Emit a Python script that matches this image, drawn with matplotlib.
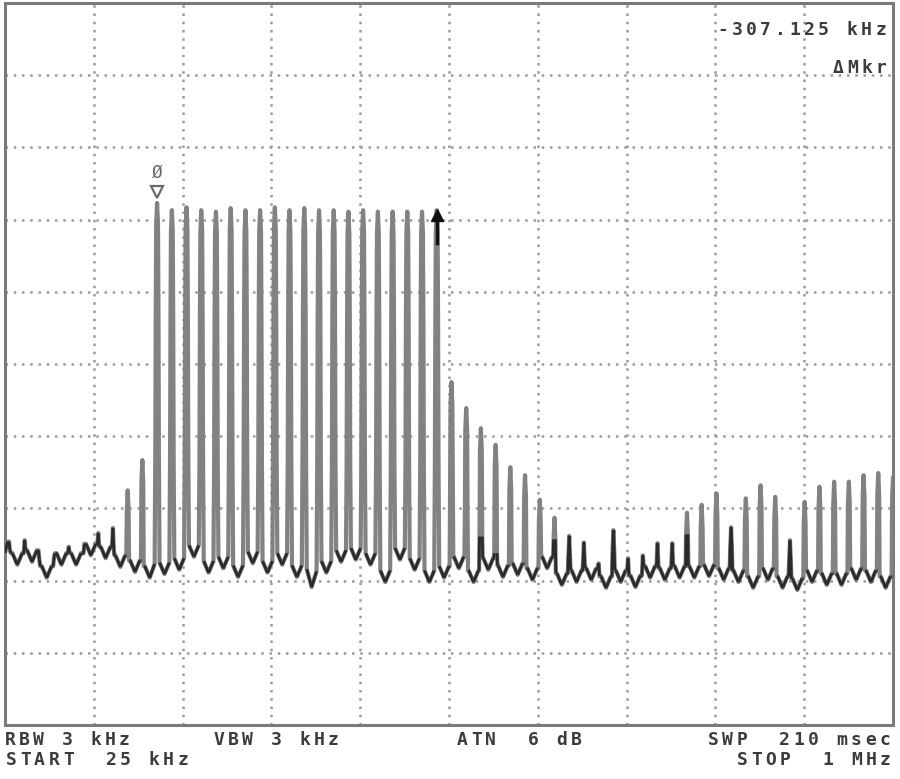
import matplotlib
matplotlib.use("Agg")
import matplotlib.pyplot as plt
from matplotlib.collections import LineCollection

start_khz = 25.0
stop_khz = 1000.0
ref_level_db = 0.0
db_per_div = 10.0

# centre frequency of each comb line (kHz)
spike_freq_khz = [30.4, 46.6, 62.7, 78.9, 95.0, 111.2, 127.4, 143.5, 159.7, 175.8,
                  192.0, 208.2, 224.3, 240.5, 256.6, 272.8, 289.0, 305.1, 321.3, 337.4,
                  353.6, 369.8, 385.9, 402.1, 418.2, 434.4, 450.6, 466.7, 482.9, 499.0,
                  515.2, 531.4, 547.5, 563.7, 579.8, 596.0, 612.2, 628.3, 644.5, 660.6,
                  676.8, 693.0, 709.1, 725.3, 741.4, 757.6, 773.8, 789.9, 806.1, 822.2,
                  838.4, 854.6, 870.7, 886.9, 903.0, 919.2, 935.4, 951.5, 967.7, 983.8,
                  1000.0]

# peak level of each comb line (dB)
spike_peak_db = [-75.8, -74.4, -77.1, -76.7, -75.3, -76.2, -73.4, -72.7, -67.5, -63.3,
                 -27.7, -28.7, -28.3, -28.7, -28.9, -28.4, -28.7, -28.7, -28.3, -28.7,
                 -28.4, -28.7, -28.7, -28.9, -28.7, -28.9, -28.9, -28.9, -28.9, -28.7,
                 -52.5, -56.1, -58.9, -61.2, -64.3, -65.4, -68.8, -71.3, -73.8, -74.7,
                 -77.6, -73.0, -76.9, -76.5, -74.8, -74.8, -70.6, -69.5, -67.9, -72.6,
                 -68.6, -66.8, -68.4, -74.4, -69.1, -67.0, -66.3, -66.3, -65.4, -65.1,
                 -65.7]

# noise floor level in the gap between consecutive lines (dB)
valley_db = [-77.8, -77.4, -79.6, -77.8, -77.8, -76.5, -76.9, -78.1, -78.8, -79.6,
             -79.1, -78.5, -76.7, -78.9, -78.3, -79.5, -77.6, -78.9, -77.8, -79.5,
             -80.9, -78.9, -77.4, -77.1, -77.8, -80.2, -77.1, -78.5, -80.2,
             -79.6, -78.3, -80.2, -78.5, -79.5, -79.2, -79.9, -78.3, -80.6, -80.2,
             -79.9, -81.0, -80.2, -80.9, -79.6, -79.9, -79.6, -79.6, -79.4, -79.9,
             -80.2, -81.0, -79.9, -81.0, -81.3, -80.2, -80.6, -80.6, -79.9, -80.2,
             -81.0]

trace_start_db = -76.2

marker_index = 10        # "Ø" marker line
delta_index = 29         # delta-marker reference line

marker_readout = "-307.125 kHz"
marker_mode = "\u0394Mkr"
footer_line1 = [("RBW 3 kHz", 5), ("VBW 3 kHz", 214), ("ATN  6 dB", 457), ("SWP  210 msec", 708)]
footer_line2 = [("START  25 kHz", 6), ("STOP  1 MHz", 737)]

# ---------------- style ----------------
W, H = 900, 779
fig = plt.figure(figsize=(W / 100, H / 100), dpi=100)
fig.patch.set_facecolor("white")
ax = fig.add_axes([5 / W, 1 - 725 / H, 888 / W, 722 / H])
ax.set_xlim(start_khz, stop_khz)
ax.set_ylim(ref_level_db - 10 * db_per_div, ref_level_db)
span = stop_khz - start_khz
ax.set_xticks([start_khz + span * i / 10 for i in range(11)])
ax.set_yticks([ref_level_db - db_per_div * i for i in range(11)])
ax.tick_params(length=0, labelbottom=False, labelleft=False)
ax.grid(True, color="#9a9a9a", linewidth=1.8, linestyle=(0, (1, 2.3)), zorder=1)
for s in ax.spines.values():
    s.set_color("#7a7a7a")
    s.set_linewidth(2.2)

# spike shape (drawing style of the narrow RBW response)
shape_off = [1.0, 1.5, 2.0, 2.7]
shape_drop = [3, 15, 35, 50]
base_lift = 1.6   # spike skirts meet the noise slightly above the gap minimum

xs, ys = [start_khz], [trace_start_db]
n = len(spike_freq_khz)
for i in range(n):
    f, p = spike_freq_khz[i], spike_peak_db[i]
    vl = valley_db[i - 1] if i > 0 else trace_start_db
    vr = valley_db[i] if i < len(valley_db) else valley_db[-1]
    for o, d in zip(reversed(shape_off), reversed(shape_drop)):
        xs.append(f - o); ys.append(max(p - d, vl + base_lift))
    xs.append(f); ys.append(p)
    for o, d in zip(shape_off, shape_drop):
        xs.append(f + o); ys.append(max(p - d, vr + base_lift))
    if i < n - 1:
        xs.append((f + spike_freq_khz[i + 1]) / 2); ys.append(valley_db[i])

ax.plot(xs, ys, color="#828282", linewidth=3.0, solid_joinstyle="round", zorder=3)
segs = []
for j in range(len(xs) - 1):
    if ys[j] < -72.5 and ys[j + 1] < -72.5:
        segs.append([(xs[j], ys[j]), (xs[j + 1], ys[j + 1])])
ax.add_collection(LineCollection(segs, colors="#2a2a2a", linewidths=2.0, zorder=4))

# markers
fm, pm = spike_freq_khz[marker_index], spike_peak_db[marker_index]
ax.plot([fm], [pm + 1.5], marker="v", markersize=8, markerfacecolor="white",
        markeredgecolor="#6a6a6a", markeredgewidth=1.6, zorder=5)
ax.text(fm, pm + 2.9, "\u00d8", ha="center", va="bottom", fontsize=13,
        color="#6a6a6a", family="DejaVu Sans Mono", zorder=5)

fd, pd_ = spike_freq_khz[delta_index], spike_peak_db[delta_index]
ax.plot([fd, fd], [pd_ - 0.6, pd_ - 4.6], color="#111111", linewidth=2.5, zorder=6)
ax.plot([fd], [pd_ - 0.6], marker="^", markersize=8, color="#111111", zorder=6)


def fixed_text(s, x_left, y_center, pitch=14.3, size=13, color="#3c3c3c"):
    for k, ch in enumerate(s):
        if ch == " ":
            continue
        fig.text((x_left + k * pitch + 5) / W, 1 - y_center / H, ch, ha="center",
                 va="center", fontsize=size, color=color, family="DejaVu Sans Mono",
                 fontweight="bold")


for s, x0 in footer_line1:
    fixed_text(s, x0, 740)
for s, x0 in footer_line2:
    fixed_text(s, x0, 760)

pitch_top = 14.4
fixed_text(marker_readout, 886 - (len(marker_readout) - 1) * pitch_top - 10, 30, pitch=pitch_top)
fixed_text(marker_mode, 886 - (len(marker_mode) - 1) * pitch_top - 10, 68, pitch=pitch_top)

fig.savefig("out.png", dpi=100, facecolor="white")
